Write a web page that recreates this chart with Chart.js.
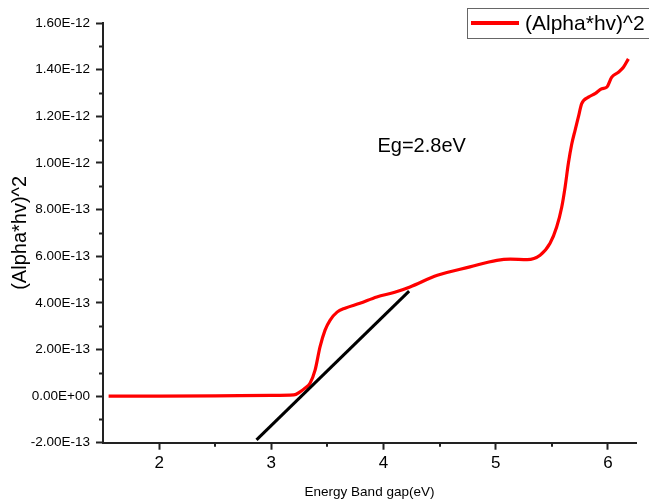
<!DOCTYPE html>
<html>
<head>
<meta charset="utf-8">
<script src="https://cdn.jsdelivr.net/npm/chart.js@4/dist/chart.umd.min.js"></script>
<style>
    html, body { margin: 0; padding: 0; background: #fff; }
    #wrap { width: 649px; height: 501px; }
</style>
</head>
<body>
<div id="wrap"><canvas id="grafico"></canvas></div>
<script>
// curva (Alpha*hv)^2
const energia = [1.55, 2.0, 2.5, 3.0, 3.2, 3.256, 3.30, 3.345, 3.39, 3.434, 3.479, 3.523, 3.586, 3.657,
    3.79, 3.94, 4.1, 4.236, 4.48, 4.77, 5.01, 5.13, 5.28, 5.395, 5.484, 5.543, 5.588, 5.618, 5.647,
    5.677, 5.707, 5.736, 5.766, 5.826, 5.885, 5.945, 5.99, 6.034, 6.093, 6.138, 6.182];
const alphaHv = [0, 0, 0.01e-13, 0.03e-13, 0.05e-13, 0.18e-13, 0.34e-13, 0.55e-13, 1.11e-13, 2.11e-13,
    2.83e-13, 3.25e-13, 3.6e-13, 3.77e-13, 3.98e-13, 4.25e-13, 4.45e-13, 4.68e-13, 5.18e-13, 5.54e-13,
    5.82e-13, 5.87e-13, 5.85e-13, 6.04e-13, 6.55e-13, 7.25e-13, 8.1e-13, 8.96e-13, 9.97e-13, 10.8e-13,
    11.4e-13, 11.96e-13, 12.54e-13, 12.82e-13, 12.97e-13, 13.18e-13, 13.25e-13, 13.68e-13, 13.89e-13,
    14.1e-13, 14.46e-13];

// reta tangente (extrapolação do gap)
const tangenteX = [2.868, 4.228];
const tangenteY = [-1.88e-13, 4.5e-13];

const xTicks = [2, 3, 4, 5, 6];
const xTickLabels = ["2", "3", "4", "5", "6"];
const xMinor = [2.5, 3.5, 4.5, 5.5];
const yTicks = [-2e-13, 0, 2e-13, 4e-13, 6e-13, 8e-13, 10e-13, 12e-13, 14e-13, 16e-13];
const yTickLabels = ["-2.00E-13", "0.00E+00", "2.00E-13", "4.00E-13", "6.00E-13", "8.00E-13",
    "1.00E-12", "1.20E-12", "1.40E-12", "1.60E-12"];
const yMinor = [-1e-13, 1e-13, 3e-13, 5e-13, 7e-13, 9e-13, 11e-13, 13e-13, 15e-13];

const serieNome = "(Alpha*hv)^2";
const anotacao = "Eg=2.8eV";
const anotacaoX = 4.34;
const anotacaoY = 1.07e-12;

const corEixo = "#222";
const fonte = "'Liberation Sans', Arial, sans-serif";

const extras = {
    id: "extras",
    afterDraw(chart) {
        const ctx = chart.ctx;
        const xs = chart.scales.x;
        const ys = chart.scales.y;
        const area = chart.chartArea;

        // ticks menores
        ctx.save();
        ctx.strokeStyle = corEixo;
        ctx.lineWidth = 2;
        ctx.beginPath();
        yMinor.forEach(v => {
            const p = Math.round(ys.getPixelForValue(v)) + 0.5;
            ctx.moveTo(area.left - 4, p);
            ctx.lineTo(area.left, p);
        });
        xMinor.forEach(v => {
            const p = Math.round(xs.getPixelForValue(v));
            ctx.moveTo(p, area.bottom);
            ctx.lineTo(p, area.bottom + 4);
        });
        ctx.stroke();

        // texto Eg
        ctx.fillStyle = "#000";
        ctx.font = "20px " + fonte;
        ctx.textAlign = "center";
        ctx.textBaseline = "middle";
        ctx.fillText(anotacao, xs.getPixelForValue(anotacaoX), ys.getPixelForValue(anotacaoY));

        // legenda
        ctx.strokeStyle = "#666";
        ctx.lineWidth = 1;
        ctx.strokeRect(467.5, 8.5, 190, 30);
        ctx.strokeStyle = "#ff0000";
        ctx.lineWidth = 4;
        ctx.beginPath();
        ctx.moveTo(471, 23);
        ctx.lineTo(519, 23);
        ctx.stroke();
        ctx.textAlign = "left";
        ctx.font = "21px " + fonte;
        ctx.fillText(serieNome, 525, 24);
        ctx.restore();
    }
};

new Chart(document.getElementById("grafico"), {
    type: "scatter",
    data: {
        datasets: [
            {
                label: "tangente",
                data: tangenteX.map((x, i) => ({ x: x, y: tangenteY[i] })),
                showLine: true,
                borderColor: "#000",
                borderWidth: 3,
                pointRadius: 0,
                borderCapStyle: "butt"
            },
            {
                label: serieNome,
                data: energia.map((x, i) => ({ x: x, y: alphaHv[i] })),
                showLine: true,
                borderColor: "#ff0000",
                borderWidth: 3.2,
                pointRadius: 0,
                cubicInterpolationMode: "monotone"
            }
        ]
    },
    options: {
        responsive: true,
        maintainAspectRatio: false,
        animation: false,
        layout: { padding: { top: 23, right: 13, left: 0, bottom: 0 } },
        plugins: {
            legend: { display: false },
            tooltip: { enabled: false }
        },
        scales: {
            x: {
                type: "linear",
                min: 1.5,
                max: 6.25,
                afterBuildTicks: s => { s.ticks = xTicks.map(v => ({ value: v })); },
                afterFit: s => { s.height = 58.3; },
                ticks: {
                    callback: (v, i) => xTickLabels[i],
                    color: "#000",
                    padding: 3,
                    font: { family: fonte, size: 17 }
                },
                grid: {
                    drawOnChartArea: false,
                    tickLength: 7,
                    tickWidth: 2,
                    tickColor: corEixo
                },
                border: { display: true, color: corEixo, width: 2 },
                title: {
                    display: true,
                    text: "Energy Band gap(eV)",
                    color: "#000",
                    padding: { top: 0, bottom: 1 },
                    font: { family: fonte, size: 13.5 }
                }
            },
            y: {
                type: "linear",
                min: -2e-13,
                max: 1.6e-12,
                afterBuildTicks: s => { s.ticks = yTicks.map(v => ({ value: v })); },
                afterFit: s => { s.width = 103; },
                ticks: {
                    callback: (v, i) => yTickLabels[i],
                    color: "#000",
                    padding: 6,
                    font: { family: fonte, size: 13.5 }
                },
                grid: {
                    drawOnChartArea: false,
                    tickLength: 7,
                    tickWidth: 2,
                    tickColor: corEixo
                },
                border: { display: true, color: corEixo, width: 2 },
                title: {
                    display: true,
                    text: "(Alpha*hv)^2",
                    color: "#000",
                    padding: { top: 8, bottom: 0 },
                    font: { family: fonte, size: 20 }
                }
            }
        }
    },
    plugins: [extras]
});
</script>
</body>
</html>
